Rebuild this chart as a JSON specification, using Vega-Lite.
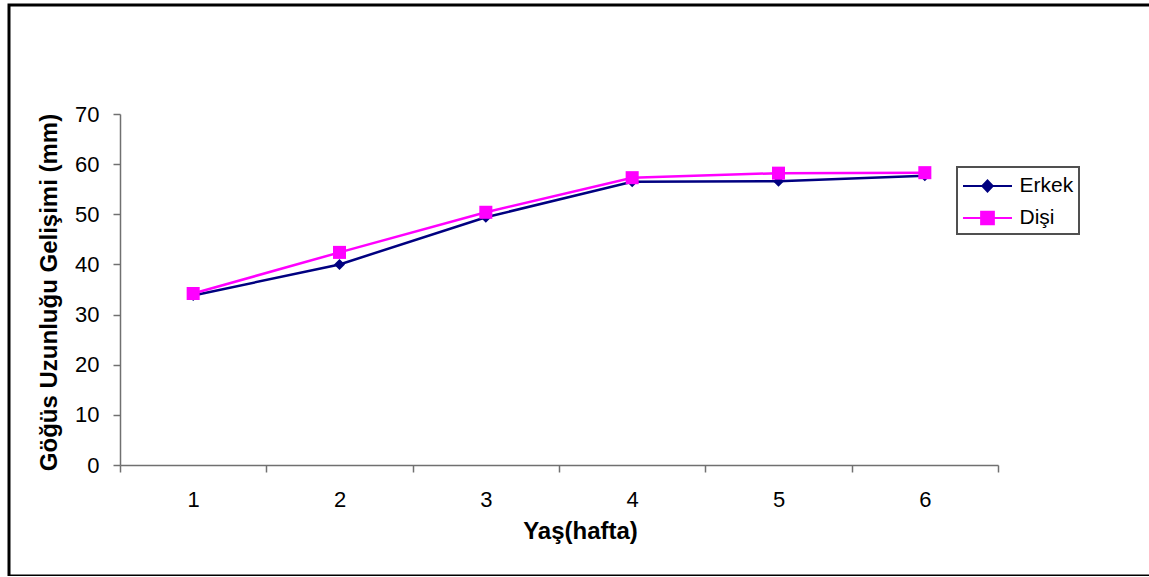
{
  "$schema": "https://vega.github.io/schema/vega-lite/v6.json",
  "autosize": {"type": "none"},
  "padding": {"left": 9, "top": 5, "right": 0, "bottom": 0},
  "width": 1150,
  "height": 571,
  "background": "white",
  "config": {
    "font": "Liberation Sans",
    "view": {"stroke": "black", "strokeWidth": 3},
    "axis": {
      "grid": false,
      "domainColor": "#707070",
      "domainWidth": 1.5,
      "tickColor": "#707070",
      "tickWidth": 1.5,
      "tickSize": 7,
      "labelColor": "black",
      "labelFont": "Liberation Sans",
      "labelFontSize": 22,
      "titleColor": "black",
      "titleFont": "Liberation Sans",
      "titleFontSize": 24,
      "titleFontWeight": "bold"
    }
  },
  "data": {
    "values": [
      {"hafta": 1, "cinsiyet": "Erkek", "uzunluk": 33.8},
      {"hafta": 2, "cinsiyet": "Erkek", "uzunluk": 40.0},
      {"hafta": 3, "cinsiyet": "Erkek", "uzunluk": 49.4},
      {"hafta": 4, "cinsiyet": "Erkek", "uzunluk": 56.5},
      {"hafta": 5, "cinsiyet": "Erkek", "uzunluk": 56.6},
      {"hafta": 6, "cinsiyet": "Erkek", "uzunluk": 57.7},
      {"hafta": 1, "cinsiyet": "Dişi", "uzunluk": 34.2},
      {"hafta": 2, "cinsiyet": "Dişi", "uzunluk": 42.4},
      {"hafta": 3, "cinsiyet": "Dişi", "uzunluk": 50.4},
      {"hafta": 4, "cinsiyet": "Dişi", "uzunluk": 57.3},
      {"hafta": 5, "cinsiyet": "Dişi", "uzunluk": 58.2},
      {"hafta": 6, "cinsiyet": "Dişi", "uzunluk": 58.3}
    ]
  },
  "encoding": {
    "x": {
      "field": "hafta",
      "type": "ordinal",
      "sort": "ascending",
      "scale": {"type": "band", "range": [111, 989], "paddingInner": 0, "paddingOuter": 0},
      "axis": {
        "orient": "bottom",
        "offset": -111,
        "labelAngle": 0,
        "tickBand": "extent",
        "labelPadding": 17,
        "title": "Yaş(hafta)",
        "titleX": 571,
        "titleY": 54,
        "titleBaseline": "top",
        "titleAlign": "center",
        "titleAnchor": null
      }
    },
    "y": {
      "field": "uzunluk",
      "type": "quantitative",
      "scale": {"domain": [0, 70], "range": [460, 109], "nice": false, "zero": true},
      "axis": {
        "orient": "left",
        "offset": -111,
        "values": [0, 10, 20, 30, 40, 50, 60, 70],
        "labelPadding": 14,
        "title": "Göğüs Uzunluğu Gelişimi (mm)",
        "titleX": -64,
        "titleY": 287,
        "titleAngle": -90,
        "titleBaseline": "alphabetic",
        "titleAlign": "center",
        "titleAnchor": null
      }
    },
    "color": {
      "field": "cinsiyet",
      "type": "nominal",
      "scale": {"domain": ["Erkek", "Dişi"], "range": ["#000080", "#FF00FF"]},
      "legend": {
        "title": null,
        "orient": "none",
        "legendX": 948,
        "legendY": 162,
        "padding": 5,
        "fillColor": "white",
        "strokeColor": "#505050",
        "labelFont": "Liberation Sans",
        "labelFontSize": 21,
        "labelColor": "black",
        "symbolSize": 676,
        "symbolStrokeWidth": 2,
        "symbolOffset": 11.5,
        "labelOffset": 18,
        "rowPadding": 8,
        "encode": {
          "legend": {"update": {"strokeWidth": {"value": 2}}},
          "symbols": {
            "update": {
              "shape": {"signal": "datum.value === 'Erkek' ? 'M-1.885,0H1.885M-0.4,0L0,-0.42L0.4,0L0,0.42Z' : 'M-1.885,0H1.885M-0.49,-0.49H0.49V0.49H-0.49Z'"},
              "fill": {"scale": "color", "field": "value"},
              "stroke": {"scale": "color", "field": "value"},
              "strokeWidth": {"value": 2}
            }
          }
        }
      }
    }
  },
  "layer": [
    {"mark": {"type": "line", "strokeWidth": 2.5}},
    {
      "transform": [{"filter": "datum.cinsiyet === 'Erkek'"}],
      "mark": {"type": "point", "shape": "diamond", "filled": true, "opacity": 1, "size": 121, "strokeWidth": 0}
    },
    {
      "transform": [{"filter": "datum.cinsiyet === 'Dişi'"}],
      "mark": {"type": "point", "shape": "square", "filled": true, "opacity": 1, "size": 170, "strokeWidth": 0}
    }
  ]
}
